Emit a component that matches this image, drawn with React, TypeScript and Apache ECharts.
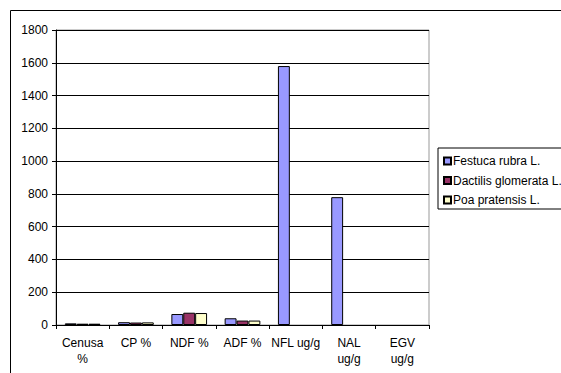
import React, { useEffect, useRef } from "react";
import * as echarts from "echarts";

const categories = ["Cenusa\n%", "CP %", "NDF %", "ADF %", "NFL ug/g", "NAL\nug/g", "EGV\nug/g"];
const festucaRubra = [10, 17, 67, 41, 1580, 780, 0];
const dactilisGlomerata = [8, 15, 75, 27, 0, 0, 0];
const poaPratensis = [8, 16, 73, 27, 0, 0, 0];
const seriesNames = ["Festuca rubra L.", "Dactilis glomerata L.", "Poa pratensis L."];
const seriesColors = ["#9999FF", "#993366", "#FFFFCC"];

const FONT = "Liberation Sans, Arial, sans-serif";

export default function App() {
  const ref = useRef<HTMLDivElement>(null);

  useEffect(() => {
    if (!ref.current) return;
    const chart = echarts.init(ref.current, undefined, { renderer: "svg" });
    const values = [festucaRubra, dactilisGlomerata, poaPratensis];
    chart.setOption({
      animation: false,
      backgroundColor: "#fff",
      textStyle: { fontFamily: FONT },
      graphic: [
        {
          type: "rect",
          shape: { x: 10.5, y: 10.5, width: 600, height: 420 },
          style: { fill: "none", stroke: "#000", lineWidth: 1 },
          silent: true,
        },
      ],
      grid: {
        left: 56,
        top: 30,
        width: 373,
        height: 295,
        show: true,
        borderColor: "#999",
        borderWidth: 1,
      },
      legend: {
        orient: "vertical",
        left: 438,
        top: 148,
        data: seriesNames,
        backgroundColor: "#fff",
        borderColor: "#000",
        borderWidth: 1,
        padding: [5, 8, 1, 5],
        itemWidth: 7,
        itemHeight: 7,
        itemGap: 3.5,
        icon: "rect",
        textStyle: {
          fontSize: 12,
          color: "#000",
          fontFamily: FONT,
          lineHeight: 14,
          padding: [1, 0, 1, -3],
        },
      },
      xAxis: {
        type: "category",
        data: categories,
        boundaryGap: true,
        axisLine: { lineStyle: { color: "#000", width: 1 } },
        axisTick: { show: true, length: 4, alignWithLabel: false, lineStyle: { color: "#000" } },
        axisLabel: {
          fontSize: 12,
          color: "#000",
          fontFamily: FONT,
          margin: 10,
          lineHeight: 16,
          interval: 0,
        },
      },
      yAxis: {
        type: "value",
        min: 0,
        max: 1800,
        interval: 200,
        axisLine: { show: true, lineStyle: { color: "#000", width: 1 } },
        axisTick: { show: true, length: 4, lineStyle: { color: "#000" } },
        axisLabel: {
          fontSize: 12,
          color: "#000",
          fontFamily: FONT,
          margin: 8,
          formatter: (v: number) => String(v),
        },
        splitLine: { show: true, lineStyle: { color: "#000", width: 1 } },
      },
      series: seriesNames.map((name, i) => ({
        name,
        type: "bar",
        data: values[i].map((v) =>
          v === 0 ? { value: v, itemStyle: { borderWidth: 0 } } : v
        ),
        barGap: "0%",
        barCategoryGap: "33%",
        itemStyle: { color: seriesColors[i], borderColor: "#000", borderWidth: 1 },
      })),
    });
    return () => chart.dispose();
  }, []);

  return (
    <div
      ref={ref}
      style={{ position: "fixed", left: 0, top: 0, width: 561, height: 373 }}
    />
  );
}
